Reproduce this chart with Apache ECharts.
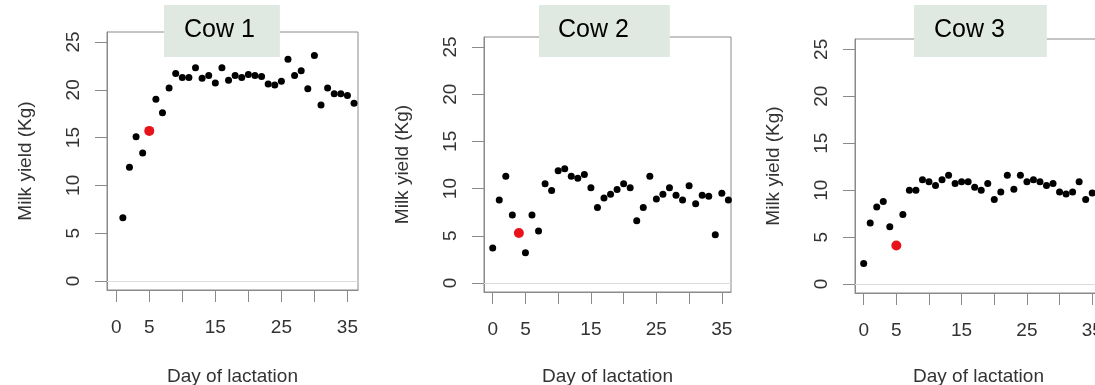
<!DOCTYPE html>
<html>
<head>
<meta charset="utf-8">
<script src="https://cdn.jsdelivr.net/npm/echarts@6/dist/echarts.min.js"></script>
<style>
html,body{margin:0;padding:0;background:#fff;}
#chart{width:1095px;height:385px;}
</style>
</head>
<body>
<div id="chart"></div>
<script>
// ---- data ----
const cowNames = ["Cow 1", "Cow 2", "Cow 3"];
const cow1Days = [1,2,3,4,5,6,7,8,9,10,11,12,13,14,15,16,17,18,19,20,21,22,23,24,25,26,27,28,29,30,31,32,33,34,35,36];
const cow1Yield = [6.6,11.9,15.1,13.4,15.7,19.0,17.6,20.2,21.7,21.3,21.3,22.3,21.2,21.5,20.7,22.3,21.0,21.5,21.3,21.6,21.5,21.4,20.6,20.5,20.9,23.2,21.5,22.0,20.1,23.6,18.4,20.2,19.6,19.6,19.4,18.6];
const cow1Red = [5, 15.7];
const cow2Days = [0,1,2,3,4,5,6,7,8,9,10,11,12,13,14,15,16,17,18,19,20,21,22,23,24,25,26,27,28,29,30,31,32,33,34,35,36];
const cow2Yield = [3.7,8.8,11.3,7.2,5.3,3.2,7.2,5.5,10.5,9.8,11.9,12.1,11.3,11.1,11.5,10.1,8.0,9.0,9.4,9.9,10.5,10.1,6.6,8.0,11.3,8.9,9.4,10.1,9.3,8.8,10.3,8.4,9.3,9.2,5.1,9.5,8.8];
const cow2Red = [4, 5.3];
const cow3Days = [0,1,2,3,4,5,6,7,8,9,10,11,12,13,14,15,16,17,18,19,20,21,22,23,24,25,26,27,28,29,30,31,32,33,34,35];
const cow3Yield = [2.2,6.5,8.2,8.8,6.1,4.1,7.4,10.0,10.0,11.1,10.9,10.5,11.1,11.6,10.7,10.9,10.9,10.3,10.0,10.7,9.0,9.8,11.6,10.1,11.6,10.9,11.1,10.9,10.5,10.7,9.8,9.6,9.8,10.9,9.0,9.7];
const cow3Red = [5, 4.1];
const xTickValues = [0,5,10,15,20,25,30,35];
const xLabelValues = [0,5,15,25,35];
const yTickValues = [0,5,10,15,20,25];
const xTitle = "Day of lactation";
const yTitle = "Milk yield (Kg)";

const panels = [
  {days: cow1Days, vals: cow1Yield, red: cow1Red},
  {days: cow2Days, vals: cow2Yield, red: cow2Red},
  {days: cow3Days, vals: cow3Yield, red: cow3Red}
];

// ---- layout ----
const grids = [
  {left: 107, top: 32, width: 251, height: 258},
  {left: 484, top: 37, width: 247, height: 255},
  {left: 855, top: 39, width: 247, height: 254}
];
const xNameGaps = [77, 75, 74];
const xRanges = [[-1.4, 36.6], [-1.33, 36.4], [-1.33, 36.5]];
const yRanges = [[-0.95, 26.05], [-0.95, 26.05], [-0.95, 26.1]];
const titleBoxes = [
  {left: 164, padding: [10, 25, 11, 20]},
  {left: 539, padding: [10, 41, 11, 19]},
  {left: 914, padding: [10, 42, 11, 20]}
];

const FONT = "Liberation Sans";
const axisGray = "#8a8a8a";
const labelColor = "#333";

const option = {
  backgroundColor: "#fff",
  animation: false,
  title: cowNames.map((n, i) => ({
    text: n,
    left: titleBoxes[i].left,
    top: 5,
    padding: titleBoxes[i].padding,
    backgroundColor: "#dfe9e1",
    textStyle: {fontFamily: FONT, fontSize: 25, fontWeight: "normal", color: "#000", lineHeight: 31},
    z: 10
  })),
  grid: grids.map(g => Object.assign({show: true, borderColor: axisGray, borderWidth: 1, backgroundColor: "transparent", outerBoundsMode: "none", containLabel: false}, g)),
  xAxis: panels.map((p, i) => ({
    type: "value",
    gridIndex: i,
    min: xRanges[i][0],
    max: xRanges[i][1],
    axisLine: {show: true, onZero: false, lineStyle: {color: axisGray, width: 1}},
    splitLine: {show: false},
    axisTick: {show: true, length: 12, inside: false, lineStyle: {color: axisGray, width: 1}, customValues: xTickValues},
    axisLabel: {show: true, margin: 28, fontFamily: FONT, fontSize: 19, color: labelColor, customValues: xLabelValues, hideOverlap: false},
    name: xTitle,
    nameLocation: "middle",
    nameGap: xNameGaps[i],
    nameTextStyle: {fontFamily: FONT, fontSize: 19, color: labelColor}
  })),
  yAxis: panels.map((p, i) => ({
    type: "value",
    gridIndex: i,
    min: yRanges[i][0],
    max: yRanges[i][1],
    axisLine: {show: true, onZero: false, lineStyle: {color: axisGray, width: 1}},
    splitLine: {show: false},
    axisTick: {show: true, length: 12, inside: false, lineStyle: {color: axisGray, width: 1}, customValues: yTickValues},
    axisLabel: {show: true, rotate: 90, margin: 24, fontFamily: FONT, fontSize: 19, color: labelColor, customValues: yTickValues, hideOverlap: false},
    name: yTitle,
    nameLocation: "middle",
    nameGap: 72,
    nameRotate: 90,
    nameTextStyle: {fontFamily: FONT, fontSize: 19, color: labelColor}
  })),
  series: []
};

panels.forEach((p, i) => {
  option.series.push({
    type: "scatter",
    xAxisIndex: i,
    yAxisIndex: i,
    symbolSize: 7,
    itemStyle: {color: "#000", opacity: 1},
    data: p.days.map((d, k) => [d, p.vals[k]]).filter(pt => !(pt[0] === p.red[0])),
    markLine: {
      silent: true,
      symbol: ["none", "none"],
      label: {show: false},
      lineStyle: {color: "#dcdcdc", width: 1, type: "solid"},
      data: [{yAxis: 0}]
    },
    z: 2
  });
  option.series.push({
    type: "scatter",
    xAxisIndex: i,
    yAxisIndex: i,
    symbolSize: 10,
    itemStyle: {color: "#e8121b", opacity: 1},
    data: [p.red],
    z: 3
  });
});

const chart = echarts.init(document.getElementById("chart"), null, {renderer: "canvas"});
chart.setOption(option);
</script>
</body>
</html>
